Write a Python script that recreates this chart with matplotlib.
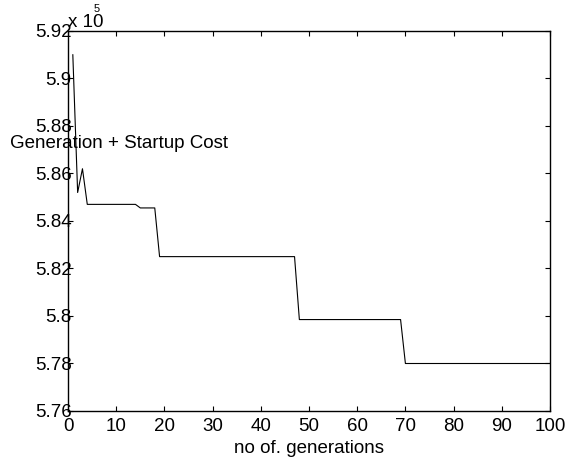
import numpy as np
import matplotlib.pyplot as plt

plt.rcParams['font.family'] = ['Liberation Sans', 'DejaVu Sans']

# cost per generation (x 10^5)
generations = np.arange(1, 101)
levels = [5.910, 5.852, 5.862] + [5.847] * 11 + [5.8455] * 4 + [5.825] * 29 \
    + [5.7985] * 22 + [5.780] * 31
cost = np.array(levels)

x_ticks = np.arange(0, 101, 10)
y_ticks = np.round(np.arange(5.76, 5.921, 0.02), 2)
y_tick_labels = ['5.76', '5.78', '5.8', '5.82', '5.84', '5.86', '5.88', '5.9', '5.92']

fs = 13.5
fig = plt.figure(figsize=(5.74, 4.57), dpi=100)
ax = fig.add_axes([68 / 574, 46 / 457, 482 / 574, 380 / 457])
ax.plot(generations, cost, color='black', linewidth=0.8)

ax.set_xlim(0, 100)
ax.set_ylim(5.76, 5.92)
ax.set_xticks(x_ticks)
ax.set_yticks(y_ticks)
ax.set_yticklabels(y_tick_labels)
ax.tick_params(direction='in', top=True, right=True, length=3.6, width=0.8,
               labelsize=fs)
ax.tick_params(axis='y', pad=-2.5)
ax.tick_params(axis='x', pad=5)
for s in ax.spines.values():
    s.set_linewidth(1.0)

fig.text(68 / 574, 1 - 31 / 457, 'x 10', fontsize=fs, ha='left', va='bottom')
fig.text(94 / 574, 1 - 14 / 457, '5', fontsize=8, ha='left', va='bottom')

fig.text(10 / 574, 1 - 143 / 457, 'Generation + Startup Cost', fontsize=fs,
         ha='left', va='center')
ax.set_xlabel('no of. generations', fontsize=fs, labelpad=3.5)

fig.savefig('out.png', dpi=100)
